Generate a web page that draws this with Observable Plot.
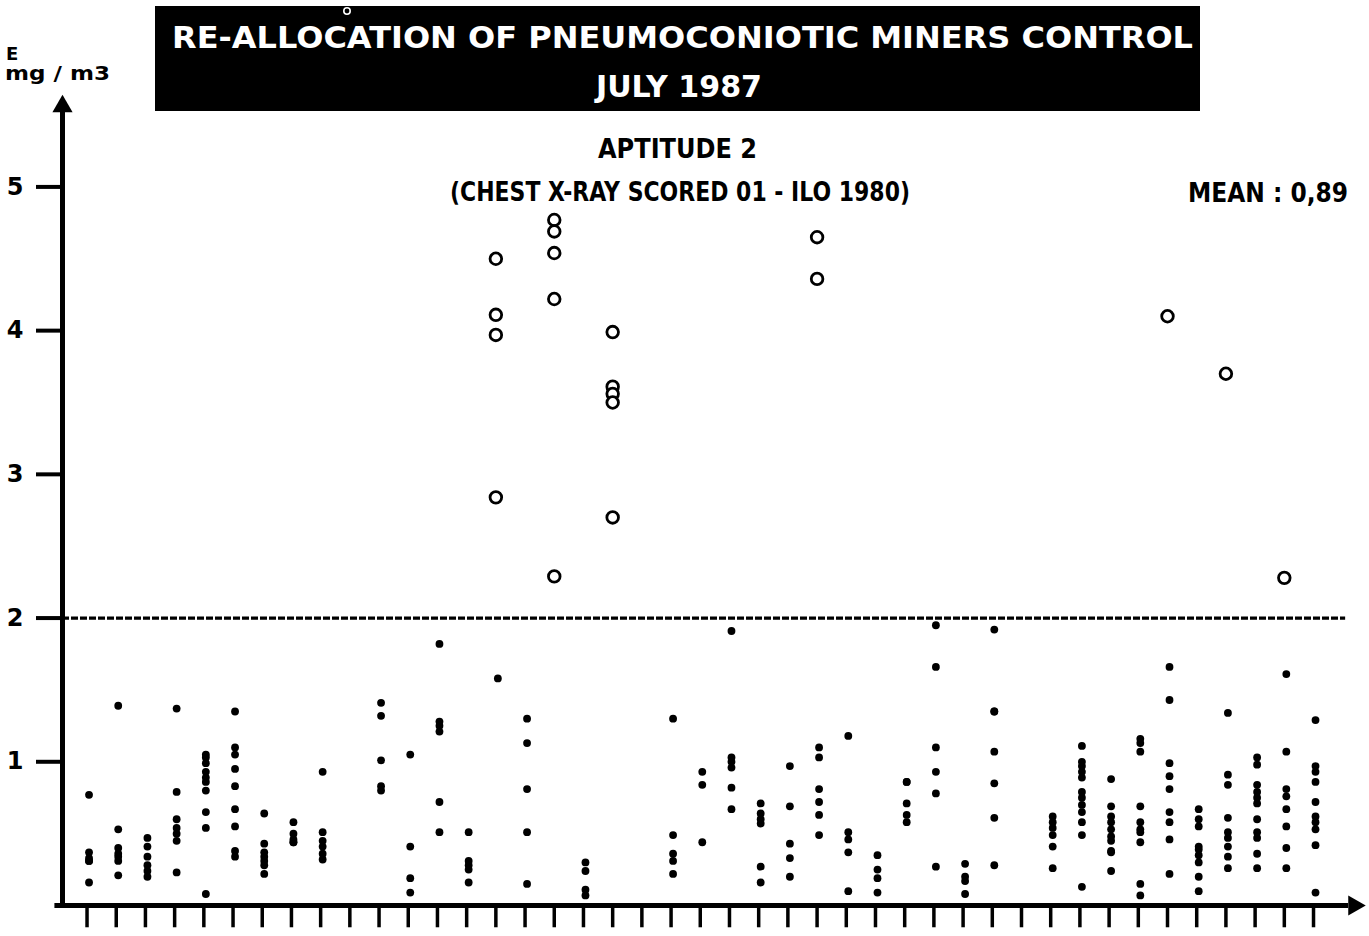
<!DOCTYPE html>
<html>
<head>
<meta charset="utf-8">
<script src="https://cdn.jsdelivr.net/npm/d3@7"></script>
<script src="https://cdn.jsdelivr.net/npm/@observablehq/plot@0.6"></script>
<style>
  html, body { margin: 0; padding: 0; background: #fff; }
  #wrap { position: relative; width: 1369px; height: 936px; overflow: hidden; background: #fff; }
  #overlay { position: absolute; left: 0; top: 0; pointer-events: none; }
  #overlay text { font-family: "DejaVu Sans", sans-serif; font-weight: bold; }
</style>
</head>
<body>
<div id="wrap">
  <div id="chart"></div>
  <svg id="overlay" width="1369" height="936" xmlns="http://www.w3.org/2000/svg"></svg>
</div>
<script>
// ---- texts ----
const titleLine1 = "RE-ALLOCATION OF PNEUMOCONIOTIC MINERS CONTROL";
const titleLine2 = "JULY 1987";
const subtitle1 = "APTITUDE 2";
const subtitle2 = "(CHEST X-RAY SCORED 01 - ILO 1980)";
const meanLabel = "MEAN : 0,89";
const yLabelTop = "E";
const yLabelUnit = "mg / m3";

// ---- data ----
const columns = [0,1,2,3,4,5,6,7,8,9,10,11,12,13,14,15,16,17,18,19,20,21,22,23,24,25,26,27,28,29,30,31,32,33,34,35,36,37,38,39,40,41,42];
const yTicks = [1, 2, 3, 4, 5];
const limitValue = 2;

// exposure values (mg/m3) below the limit, one list per column (filled dots)
const dustByColumn = [
  [0.77, 0.37, 0.33, 0.31, 0.31, 0.16],
  [1.39, 0.53, 0.40, 0.36, 0.34, 0.31, 0.21],
  [0.47, 0.41, 0.34, 0.28, 0.24, 0.20],
  [1.37, 0.79, 0.60, 0.54, 0.50, 0.45, 0.23],
  [1.05, 1.03, 0.99, 0.93, 0.89, 0.86, 0.80, 0.65, 0.54, 0.08],
  [1.35, 1.10, 1.05, 0.95, 0.83, 0.67, 0.55, 0.38, 0.34],
  [0.64, 0.43, 0.37, 0.34, 0.31, 0.28, 0.22],
  [0.58, 0.50, 0.46, 0.44, 0.44],
  [0.93, 0.51, 0.45, 0.41, 0.36, 0.32],
  [],
  [1.41, 1.32, 1.01, 0.83, 0.80],
  [1.05, 0.41, 0.19, 0.09],
  [1.82, 1.28, 1.25, 1.21, 0.72, 0.51],
  [0.51, 0.31, 0.28, 0.25, 0.16],
  [1.58],
  [1.30, 1.13, 0.81, 0.51, 0.15],
  [],
  [0.30, 0.24, 0.11, 0.07],
  [],
  [],
  [1.30, 0.49, 0.36, 0.31, 0.22],
  [0.93, 0.84, 0.44],
  [1.91, 1.03, 1.00, 0.96, 0.82, 0.67],
  [0.71, 0.64, 0.60, 0.57, 0.27, 0.16],
  [0.97, 0.69, 0.43, 0.33, 0.20],
  [1.10, 1.03, 0.81, 0.72, 0.63, 0.49],
  [1.18, 0.51, 0.46, 0.37, 0.10],
  [0.35, 0.25, 0.19, 0.09],
  [0.86, 0.86, 0.71, 0.63, 0.58],
  [1.95, 1.66, 1.10, 0.93, 0.78, 0.27],
  [0.29, 0.20, 0.17, 0.08],
  [1.92, 1.35, 1.35, 1.07, 0.85, 0.61, 0.28],
  [],
  [0.62, 0.58, 0.54, 0.49, 0.41, 0.26],
  [1.11, 1.00, 0.97, 0.93, 0.89, 0.79, 0.75, 0.70, 0.65, 0.58, 0.49, 0.13],
  [0.88, 0.69, 0.62, 0.58, 0.53, 0.48, 0.45, 0.38, 0.37, 0.24],
  [1.16, 1.13, 1.07, 0.69, 0.58, 0.53, 0.51, 0.44, 0.15, 0.07],
  [1.66, 1.43, 0.99, 0.90, 0.81, 0.65, 0.58, 0.46, 0.22],
  [0.67, 0.60, 0.55, 0.41, 0.39, 0.35, 0.30, 0.20, 0.10],
  [1.34, 0.91, 0.84, 0.61, 0.51, 0.47, 0.41, 0.34, 0.26],
  [1.03, 0.98, 0.84, 0.79, 0.75, 0.71, 0.60, 0.51, 0.47, 0.36, 0.26],
  [1.61, 1.07, 0.81, 0.76, 0.67, 0.55, 0.40, 0.26],
  [1.29, 0.97, 0.93, 0.86, 0.72, 0.62, 0.58, 0.53, 0.42, 0.09]
];

// exposure values above the limit (open circles)
const highColumns = [14, 16, 18, 25, 37, 39, 41];
const highByColumn = [
  [4.50, 4.11, 3.97, 2.84],
  [4.77, 4.69, 4.54, 4.22, 2.29],
  [3.99, 3.61, 3.56, 3.50, 2.70],
  [4.65, 4.36],
  [4.10],
  [3.70],
  [2.28]
];

const dust = dustByColumn.flatMap((vals, i) => vals.map(v => ({col: columns[i], value: v})));
const high = highByColumn.flatMap((vals, i) => vals.map(v => ({col: highColumns[i], value: v})));

const xLeft = -0.84, xRight = 43.78;
const yTop = 5.65;

const chart = Plot.plot({
  width: 1369,
  height: 936,
  marginLeft: 62,
  marginRight: 4,
  marginTop: 93,
  marginBottom: 31,
  x: {domain: [xLeft, xRight], axis: null},
  y: {domain: [0, yTop], axis: null},
  style: {background: "white", fontFamily: "DejaVu Sans, sans-serif", color: "black", overflow: "visible"},
  marks: [
    Plot.ruleY([limitValue], {x1: xLeft, x2: 43.1, stroke: "black", strokeWidth: 3.2, strokeDasharray: "7,2"}),
    Plot.ruleX(columns, {x: d => d, y1: 0, y2: -0.155, stroke: "black", strokeWidth: 3.5}),
    Plot.ruleX([xLeft], {y1: 0, y2: 5.52, stroke: "black", strokeWidth: 5}),
    Plot.ruleY([0], {x1: -1.1, x2: 43.2, stroke: "black", strokeWidth: 5}),
    Plot.dot([{x: xLeft, y: 5.56}], {x: "x", y: "y", symbol: "triangle", r: 7.5, fill: "black"}),
    Plot.dot([{x: 43.39, y: 0}], {x: "x", y: "y", symbol: "triangle", r: 7.5, fill: "black", rotate: 90}),
    Plot.axisY(yTicks, {anchor: "left", tickSize: 26, tickPadding: 13, tickFormat: d => String(d), stroke: "black", strokeWidth: 4, fill: "black", fontSize: 24, fontWeight: "bold", label: null}),
    Plot.dot(dust, {x: "col", y: "value", r: 3.9, fill: "black", dx: 2}),
    Plot.dot(high, {x: "col", y: "value", r: 5.8, stroke: "black", strokeWidth: 2.8, fill: "white"})
  ]
});
document.getElementById("chart").appendChild(chart);

// ---- title block & annotations ----
const ov = d3.select("#overlay");
ov.append("rect").attr("x", 155).attr("y", 6).attr("width", 1045).attr("height", 105).attr("fill", "#000");
ov.append("circle").attr("cx", 347).attr("cy", 11).attr("r", 3.2).attr("fill", "#000").attr("stroke", "#fff").attr("stroke-width", 1.6);
const texts = [
  {t: titleLine1, x: 172, y: 48, size: 30, len: 1021, fill: "#fff"},
  {t: titleLine2, x: 596, y: 97, size: 30, len: 166, fill: "#fff"},
  {t: subtitle1, x: 598, y: 158, size: 27, len: 159, fill: "#000"},
  {t: subtitle2, x: 450, y: 201, size: 26, len: 460, fill: "#000"},
  {t: meanLabel, x: 1188, y: 202, size: 26, len: 160, fill: "#000"},
  {t: yLabelTop, x: 6, y: 60, size: 18, len: null, fill: "#000"},
  {t: yLabelUnit, x: 5, y: 80, size: 19, len: 105, fill: "#000"}
];
for (const d of texts) {
  const el = ov.append("text").attr("x", d.x).attr("y", d.y).attr("font-size", d.size).attr("fill", d.fill).text(d.t);
  if (d.len) el.attr("textLength", d.len).attr("lengthAdjust", "spacingAndGlyphs");
}
</script>
</body>
</html>
